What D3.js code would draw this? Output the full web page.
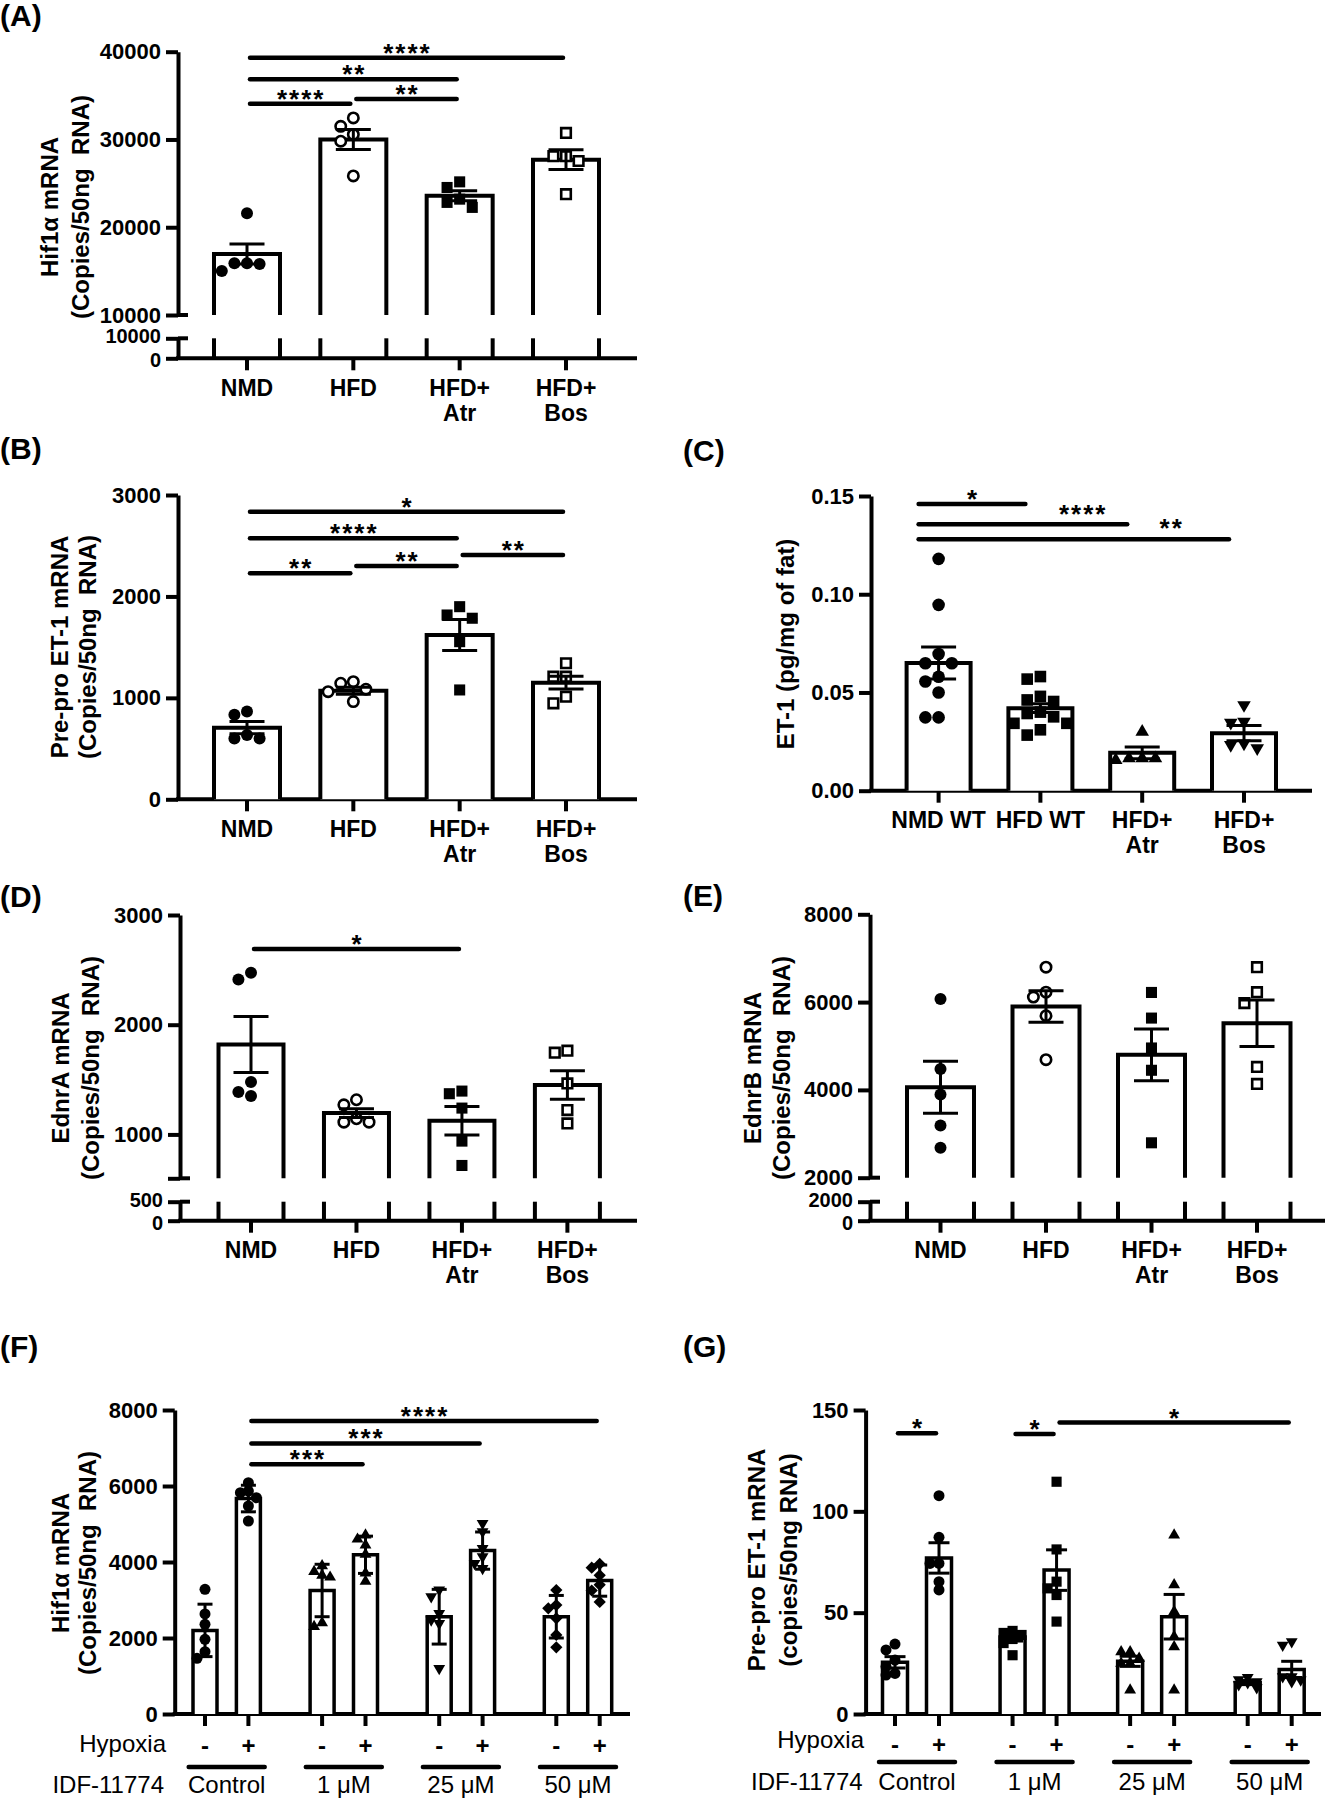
<!DOCTYPE html>
<html><head><meta charset="utf-8">
<script src="https://cdn.jsdelivr.net/npm/d3@7"></script>
<style>
body{margin:0;background:#fff;}
svg{display:block;}
text{font-family:"Liberation Sans", Arial, Helvetica, sans-serif; fill:#000; white-space:pre;}
</style></head><body>
<svg id="fig" width="1329" height="1800"></svg>
<script>
// ---------------- DATA ----------------
// Panel A: Hif1a mRNA
const catsA = ["NMD", "HFD", "HFD+|Atr", "HFD+|Bos"];
const meanA = [16950, 30000, 23600, 27700];
const semA = [1130, 1130, 570, 1130];
const ptsA = [[21600, 15000, 15900, 15900, 15800], [32450, 31500, 30570, 29800, 25850], [25170, 24530, 22260, 23200, 22830], [30750, 28100, 28100, 27550, 23770]];
const marksA = ["circle", "ocircle", "square", "osquare"];
const ticksAU = [10000, 20000, 30000, 40000];
const tickLabelsAU = ["10000", "20000", "30000", "40000"];
const ticksAL = [0, 10000];
const tickLabelsAL = ["0", "10000"];
const sigA = [{a: 0, b: 3, y: 39320, t: "****"}, {a: 0, b: 2, y: 36870, t: "**"}, {a: 0, b: 1, y: 34080, t: "****"}, {a: 1, b: 2, y: 34600, t: "**"}];
const ylabA = ["Hif1\u03b1 mRNA", "(Copies/50ng  RNA)"];

// Panel B: Pre-pro ET-1 mRNA
const catsB = ["NMD", "HFD", "HFD+|Atr", "HFD+|Bos"];
const meanB = [706, 1070, 1620, 1150];
const semB = [60, 35, 152, 62];
const ptsB = [[865, 833, 600, 633, 600], [1144, 1160, 963, 1061, 1085], [1899, 1817, 1785, 1554, 1078], [1341, 1209, 1209, 1012, 946]];
const marksB = ["circle", "ocircle", "square", "osquare"];
const ticksB = [0, 1000, 2000, 3000];
const tickLabelsB = ["0", "1000", "2000", "3000"];
const sigB = [{a: 0, b: 3, y: 2836, t: "*"}, {a: 0, b: 2, y: 2573, t: "****"}, {a: 2, b: 3, y: 2408, t: "**"}, {a: 1, b: 2, y: 2300, t: "**"}, {a: 0, b: 1, y: 2228, t: "**"}];
const ylabB = ["Pre-pro ET-1 mRNA", "(Copies/50ng  RNA)"];

// Panel C: ET-1 protein
const catsC = ["NMD WT", "HFD WT", "HFD+|Atr", "HFD+|Bos"];
const meanC = [0.065, 0.042, 0.0193, 0.0293];
const semC = [0.0082, 0.0022, 0.003, 0.0039];
const ptsC = [
  [0.118, 0.0946, 0.0696, 0.0649, 0.0649, 0.058, 0.0556, 0.05, 0.0373, 0.0373],
  [0.0581, 0.0568, 0.048, 0.0462, 0.0454, 0.040, 0.0393, 0.0376, 0.0343, 0.0343, 0.031, 0.0283],
  [0.030, 0.0156, 0.0165, 0.0165, 0.0165],
  [0.0436, 0.0346, 0.0351, 0.0216, 0.0233, 0.0241]];
const marksC = ["circle", "square", "triup", "tridown"];
const ticksC = [0, 0.05, 0.10, 0.15];
const tickLabelsC = ["0.00", "0.05", "0.10", "0.15"];
const sigC = [{a: 0, b: 1, y: 0.1459, t: "*"}, {a: 0, b: 2, y: 0.1356, t: "****", tx: 1.41, ty: 0.1381}, {a: 0, b: 3, y: 0.128, t: "**", tx: 2.28, ty: 0.1310}];
const ylabC = ["ET-1 (pg/mg of fat)"];

// Panel D: EdnrA mRNA
const catsD = ["NMD", "HFD", "HFD+|Atr", "HFD+|Bos"];
const meanD = [1820, 1195, 1125, 1450];
const semD = [255, 40, 130, 130];
const ptsD = [[2474, 2413, 1477, 1350, 1386], [1316, 1270, 1112, 1143, 1112], [1395, 1371, 1240, 939, 717], [1763, 1745, 1465, 1222, 1100]];
const marksD = ["circle", "ocircle", "square", "osquare"];
const ticksDU = [600, 1000, 2000, 3000];
const tickLabelsDU = ["", "1000", "2000", "3000"];
const ticksDL = [0, 500];
const tickLabelsDL = ["0", "500"];
const sigD = [{a: 0, b: 2, y: 2690, t: "*"}];
const ylabD = ["EdnrA mRNA", "(Copies/50ng  RNA)"];

// Panel E: EdnrB mRNA
const catsE = ["NMD", "HFD", "HFD+|Atr", "HFD+|Bos"];
const meanE = [4060, 5900, 4800, 5520];
const semE = [590, 360, 590, 530];
const ptsE = [[6068, 4477, 3894, 3189, 2682], [6795, 6227, 6114, 5689, 4689], [6220, 5636, 4955, 4447, 2795], [6795, 6227, 5977, 4523, 4136]];
const marksE = ["circle", "ocircle", "square", "osquare"];
const ticksEU = [2000, 4000, 6000, 8000];
const tickLabelsEU = ["2000", "4000", "6000", "8000"];
const ticksEL = [0, 2000];
const tickLabelsEL = ["0", "2000"];
const sigE = [];
const ylabE = ["EdnrB mRNA", "(Copies/50ng  RNA)"];

// Panels F and G: IDF-11774 doses x hypoxia
const groupsFG = ["Control", "1 \u03bcM", "25 \u03bcM", "50 \u03bcM"];
const hypoxiaFG = ["-", "+"];
const meanF = [2200, 5670, 3250, 4190, 2560, 4300, 2560, 3510];
const sdF = [690, 350, 690, 490, 720, 490, 560, 410];
const ptsF = [
  [3280, 2632, 2360, 1965, 1640, 1465],
  [6088, 5868, 5825, 5693, 5474, 5079],
  [3900, 3750, 3650, 3600, 2400, 2300],
  [4711, 4600, 4447, 4200, 3711, 3491],
  [3263, 3088, 2649, 2474, 2386, 1202],
  [5018, 4798, 4360, 4140, 3965, 3833],
  [3263, 2868, 2781, 2518, 2079, 1754],
  [3950, 3850, 3650, 3400, 3250, 2950]];
const marksF = ["circle", "circle", "triup", "triup", "tridown", "tridown", "diamond", "diamond"];
const ticksF = [0, 2000, 4000, 6000, 8000];
const tickLabelsF = ["0", "2000", "4000", "6000", "8000"];
const sigF = [{a: 1, b: 7, y: 7710, t: "****"}, {a: 1, b: 5, y: 7120, t: "***"}, {a: 1, b: 3, y: 6570, t: "***"}];
const ylabF = ["Hif1\u03b1 mRNA", "(Copies/50ng  RNA)"];

const meanG = [25.5, 77, 38, 71, 26, 48, 15.5, 22];
const semG = [2.8, 7.5, 2, 10, 2.5, 11, 1, 4];
const ptsG = [
  [34.5, 31.6, 26.6, 23.4, 20, 19.2],
  [107.7, 87.2, 74.3, 74.3, 65.3, 61.2],
  [41, 40, 39, 37, 35, 29],
  [114.6, 81.2, 65.3, 62, 58.7, 45.6],
  [30.7, 30.7, 27.5, 25, 25, 11.8],
  [88.3, 63.7, 50.5, 38.2, 33.2, 11.8],
  [18, 17, 16, 15.5, 14.5, 13],
  [35.7, 34, 18.4, 18.4, 16, 16.8]];
const marksG = ["circle", "circle", "square", "square", "triup", "triup", "tridown", "tridown"];
const ticksG = [0, 50, 100, 150];
const tickLabelsG = ["0", "50", "100", "150"];
const sigG = [{a: 0, b: 1, y: 138.5, t: "*"}, {a: 2, b: 3, y: 138.2, t: "*"}, {a: 3, b: 7, y: 143.8, t: "*"}];
const ylabG = ["Pre-pro ET-1 mRNA", "(copies/50ng RNA)"];

// ---------------- DRAWING ----------------
const svg = d3.select("#fig");
const FONT = '"Liberation Sans", Arial, Helvetica, sans-serif';
const BLACK = "#000";

function styleAxis(sel, fs) {
  sel.attr("font-family", FONT).attr("font-size", fs).attr("font-weight", "bold");
  sel.selectAll(".domain").attr("stroke", BLACK).attr("stroke-width", 4);
  sel.selectAll(".tick line").attr("stroke", BLACK).attr("stroke-width", 4);
  sel.selectAll(".tick text").attr("fill", BLACK);
}

function symbolPath(type, r) {
  const s = r * 2;
  switch (type) {
    case "circle": case "ocircle": return d3.symbol(d3.symbolCircle, Math.PI * r * r)();
    case "square": case "osquare": return d3.symbol(d3.symbolSquare, s * s * 0.85)();
    case "triup": case "tridown": return d3.symbol(d3.symbolTriangle, s * s * 0.5)();
    case "diamond": return d3.symbol(d3.symbolSquare, s * s * 0.62)();
  }
}

function drawMarker(g, type, x, y, r) {
  const open = type === "ocircle" || type === "osquare";
  let rot = 0;
  if (type === "tridown") rot = 180;
  if (type === "diamond") rot = 45;
  g.append("path")
    .attr("d", symbolPath(type, open ? r - 0.8 : r))
    .attr("transform", `translate(${x},${y}) rotate(${rot})`)
    .attr("fill", open ? "#fff" : BLACK)
    .attr("stroke", BLACK)
    .attr("stroke-width", open ? 2.6 : 0);
}

// GraphPad-like spreading of points with close values
function swarm(values, yfn, minD, step, maxK) {
  const order = values.map((v, i) => ({v, i, y: yfn(v)})).sort((p, q) => d3.descending(p.v, q.v));
  const placed = [];
  const off = new Array(values.length).fill(0);
  const cands = [0];
  for (let j = 1; j <= maxK; j++) cands.push(-j * step, j * step);
  for (const p of order) {
    let best = 0, bestD = -1, done = false;
    for (const dx of cands) {
      const dmin = placed.length ? d3.min(placed, q => Math.hypot(q.x - dx, q.y - p.y)) : Infinity;
      if (dmin >= minD) { off[p.i] = dx; done = true; break; }
      if (dmin > bestD) { bestD = dmin; best = dx; }
    }
    if (!done) off[p.i] = best;
    placed.push({x: off[p.i], y: p.y});
  }
  return off;
}

function drawPanel(o) {
  const g = svg.append("g");
  g.append("text").attr("x", o.letterX).attr("y", o.letterY)
    .attr("font-size", 30).attr("font-weight", "bold").text(o.letter);

  const yU = d3.scaleLinear().domain(o.domU).range(o.rangeU);
  const yL = o.domL ? d3.scaleLinear().domain(o.domL).range(o.rangeL) : null;
  const baseY = yL ? yL(0) : yU(0);
  const barBottom = yU(o.domU[0]);
  const tfs = o.tickFS || 22;

  // y axis (upper / main)
  const axU = d3.axisLeft(yU).tickValues(o.ticksU).tickFormat((d, i) => o.labelsU[i])
    .tickSize(12).tickSizeOuter(0).tickPadding(5);
  g.append("g").attr("transform", `translate(${o.axisX},0)`).call(axU).call(styleAxis, tfs);
  if (yL) {
    const axL = d3.axisLeft(yL).tickValues(o.ticksL).tickFormat((d, i) => o.labelsL[i])
      .tickSize(12).tickSizeOuter(0).tickPadding(5);
    const gl = g.append("g").attr("transform", `translate(${o.axisX},0)`).call(axL).call(styleAxis, 20);
    gl.selectAll(".tick text").attr("dy", (d, i) => i === 0 ? "0.42em" : "0.22em");
    [yU(o.domU[0]), yL(o.domL[1])].forEach(yy =>
      g.append("line").attr("x1", o.axisX).attr("x2", o.axisX + 10).attr("y1", yy).attr("y2", yy)
        .attr("stroke", BLACK).attr("stroke-width", 4));
  }
  // x axis baseline
  g.append("line").attr("x1", o.axisX - 2).attr("x2", o.axisRight).attr("y1", baseY).attr("y2", baseY)
    .attr("stroke", BLACK).attr("stroke-width", 4);
  // x ticks
  o.xs.forEach(x => g.append("line").attr("x1", x).attr("x2", x).attr("y1", baseY).attr("y2", baseY + 12)
    .attr("stroke", BLACK).attr("stroke-width", 4));

  // bars
  const hw = o.barW / 2;
  o.means.forEach((m, i) => {
    const x = o.xs[i];
    g.append("path")
      .attr("d", `M${x - hw},${barBottom}V${yU(m)}H${x + hw}V${barBottom}`)
      .attr("fill", "#fff").attr("stroke", BLACK).attr("stroke-width", o.barSW || 4)
      .attr("stroke-linejoin", "miter");
    if (yL) {
      [x - hw, x + hw].forEach(xx => g.append("line").attr("x1", xx).attr("x2", xx)
        .attr("y1", yL(o.domL[1])).attr("y2", baseY).attr("stroke", BLACK).attr("stroke-width", o.barSW || 4));
    }
  });

  // points
  o.pts.forEach((arr, i) => {
    const off = swarm(arr, yU, o.minD || o.mr * 2 + 0.6, o.step || o.mr * 2.1, o.maxK || 4);
    arr.forEach((v, j) => drawMarker(g, o.marks[i], o.xs[i] + off[j], yU(v), o.mr));
  });

  // error bars
  o.means.forEach((m, i) => {
    const x = o.xs[i], e = o.errs[i], cw = o.capW / 2;
    const y1 = yU(m - e), y2 = yU(m + e);
    g.append("line").attr("x1", x).attr("x2", x).attr("y1", y1).attr("y2", y2).attr("stroke", BLACK).attr("stroke-width", 3);
    [y1, y2].forEach(yy => g.append("line").attr("x1", x - cw).attr("x2", x + cw).attr("y1", yy).attr("y2", yy)
      .attr("stroke", BLACK).attr("stroke-width", 3));
  });

  // significance bars
  const txScale = d3.scaleLinear().domain([0, o.xs.length - 1]).range([o.xs[0], o.xs[o.xs.length - 1]]);
  o.sig.forEach(s => {
    const x1 = o.xs[s.a] + (o.sigDx1 || 0) + 3, x2 = o.xs[s.b] + (o.sigDx2 || 0) - 3;
    const yy = yU(s.y);
    g.append("line").attr("x1", x1).attr("x2", x2).attr("y1", yy).attr("y2", yy)
      .attr("stroke", BLACK).attr("stroke-width", 4.5).attr("stroke-linecap", "round");
    const tx = s.tx != null ? txScale(s.tx) : (x1 + x2) / 2;
    const ty = s.ty != null ? yU(s.ty) : yy;
    g.append("text").attr("x", tx + 1).attr("y", ty + 4).attr("text-anchor", "middle")
      .attr("font-size", 26).attr("font-weight", "bold").attr("letter-spacing", 2).text(s.t);
  });

  // y label
  o.ylab.forEach((t, i) => {
    g.append("text").attr("transform", `translate(${o.ylabX[i]},${o.ylabY}) rotate(-90)`)
      .attr("text-anchor", "middle").attr("font-size", o.ylabFS || 24).attr("font-weight", "bold").text(t);
  });

  // category labels
  if (o.cats) {
    o.cats.forEach((c, i) => {
      c.split("|").forEach((line, k) => {
        g.append("text").attr("x", o.xs[i]).attr("y", baseY + 37.5 + k * 25).attr("text-anchor", "middle")
          .attr("font-size", 23).attr("font-weight", "bold").text(line);
      });
    });
  }
  return {g, baseY};
}

// ---- panels A-E ----
function catX(cats, lo, hi) {
  const s = d3.scalePoint().domain(cats).range([lo, hi]);
  return cats.map(c => s(c));
}

drawPanel({letter: "(A)", letterX: 0, letterY: 26, axisX: 178, axisRight: 637,
  domU: [10000, 40000], rangeU: [315, 51.7], domL: [0, 10000], rangeL: [358.3, 338.3],
  ticksU: ticksAU, labelsU: tickLabelsAU, ticksL: ticksAL, labelsL: tickLabelsAL,
  xs: catX(catsA, 247, 566), cats: catsA, barW: 66, capW: 35, mr: 6,
  means: meanA, errs: semA, pts: ptsA, marks: marksA, sig: sigA,
  ylab: ylabA, ylabX: [58, 89], ylabY: 207});

drawPanel({letter: "(B)", letterX: 0, letterY: 459, axisX: 178, axisRight: 637,
  domU: [0, 3000], rangeU: [799.3, 495],
  ticksU: ticksB, labelsU: tickLabelsB,
  xs: catX(catsB, 247, 566), cats: catsB, barW: 66, capW: 35, mr: 6,
  means: meanB, errs: semB, pts: ptsB, marks: marksB, sig: sigB,
  ylab: ylabB, ylabX: [68, 96], ylabY: 647});

drawPanel({letter: "(C)", letterX: 683, letterY: 461, axisX: 871, axisRight: 1312,
  domU: [0, 0.15], rangeU: [790.7, 496],
  ticksU: ticksC, labelsU: tickLabelsC,
  xs: catX(catsC, 938.6, 1244), cats: catsC, barW: 64, capW: 35, mr: 6.3,
  means: meanC, errs: semC, pts: ptsC, marks: marksC, sig: sigC, sigDx1: -23, sigDx2: -12,
  ylab: ylabC, ylabX: [794], ylabY: 644});

drawPanel({letter: "(D)", letterX: 0, letterY: 907, axisX: 180, axisRight: 637,
  domU: [600, 3000], rangeU: [1178.3, 915], domL: [0, 500], rangeL: [1220.7, 1201.7],
  ticksU: ticksDU, labelsU: tickLabelsDU, ticksL: ticksDL, labelsL: tickLabelsDL,
  xs: catX(catsD, 251, 567.4), cats: catsD, barW: 65, capW: 35, mr: 6,
  means: meanD, errs: semD, pts: ptsD, marks: marksD, sig: sigD,
  ylab: ylabD, ylabX: [69, 99], ylabY: 1068});

drawPanel({letter: "(E)", letterX: 683, letterY: 906, axisX: 870, axisRight: 1325,
  domU: [2000, 8000], rangeU: [1177.7, 914.3], domL: [0, 2000], rangeL: [1220.7, 1201.7],
  ticksU: ticksEU, labelsU: tickLabelsEU, ticksL: ticksEL, labelsL: tickLabelsEL,
  xs: catX(catsE, 940.5, 1257), cats: catsE, barW: 67, capW: 35, mr: 6,
  means: meanE, errs: semE, pts: ptsE, marks: marksE, sig: sigE,
  ylab: ylabE, ylabX: [761, 790], ylabY: 1068});

// ---- panels F, G ----
function nestedX(lo, hi, inner) {
  const gs = d3.scalePoint().domain(groupsFG).range([lo, hi]);
  const hs = d3.scalePoint().domain(hypoxiaFG).range([-inner, inner]);
  const xs = [];
  groupsFG.forEach(gk => hypoxiaFG.forEach(hk => xs.push(gs(gk) + hs(hk))));
  return {xs, gs, hs};
}

function drawDose(o, nx) {
  const {g, baseY} = drawPanel(o);
  g.append("text").attr("x", o.hypX).attr("y", o.hypY).attr("text-anchor", "end")
    .attr("font-size", 24).text("Hypoxia");
  groupsFG.forEach(gk => hypoxiaFG.forEach(hk => {
    g.append("text").attr("x", nx.gs(gk) + nx.hs(hk)).attr("y", o.pmY).attr("text-anchor", "middle")
      .attr("font-size", 24).attr("font-weight", "bold").text(hk);
  }));
  groupsFG.forEach(gk => {
    const cx = nx.gs(gk);
    g.append("line").attr("x1", cx - 38).attr("x2", cx + 38).attr("y1", o.ulY).attr("y2", o.ulY)
      .attr("stroke", BLACK).attr("stroke-width", 4.5).attr("stroke-linecap", "round");
    g.append("text").attr("x", cx).attr("y", o.doseY).attr("text-anchor", "middle")
      .attr("font-size", 24).text(gk);
  });
  g.append("text").attr("x", o.idfX).attr("y", o.doseY).attr("text-anchor", "end")
    .attr("font-size", 24).text("IDF-11774");
}

const nxF = nestedX(226.7, 578, 21.7);
drawDose({letter: "(F)", letterX: 0, letterY: 1357, axisX: 174.7, axisRight: 630,
  domU: [0, 8000], rangeU: [1714, 1410],
  ticksU: ticksF, labelsU: tickLabelsF,
  xs: nxF.xs, barW: 24, barSW: 3.5, capW: 15, mr: 5.5, step: 8, minD: 8, maxK: 1,
  means: meanF, errs: sdF, pts: ptsF, marks: marksF, sig: sigF,
  ylab: ylabF, ylabX: [69, 96], ylabY: 1563,
  hypX: 166, hypY: 1752, pmY: 1754, ulY: 1767, doseY: 1793, idfX: 164}, nxF);

const nxG = nestedX(917, 1269.7, 22);
drawDose({letter: "(G)", letterX: 683, letterY: 1357, axisX: 865.6, axisRight: 1321,
  domU: [0, 150], rangeU: [1714, 1410],
  ticksU: ticksG, labelsU: tickLabelsG,
  xs: nxG.xs, barW: 25, barSW: 3.5, capW: 21, mr: 5.5, step: 9, minD: 8, maxK: 1,
  means: meanG, errs: semG, pts: ptsG, marks: marksG, sig: sigG,
  ylab: ylabG, ylabX: [765, 797], ylabY: 1560,
  hypX: 864, hypY: 1748, pmY: 1753, ulY: 1762, doseY: 1790, idfX: 862.6}, nxG);
</script>
</body></html>
